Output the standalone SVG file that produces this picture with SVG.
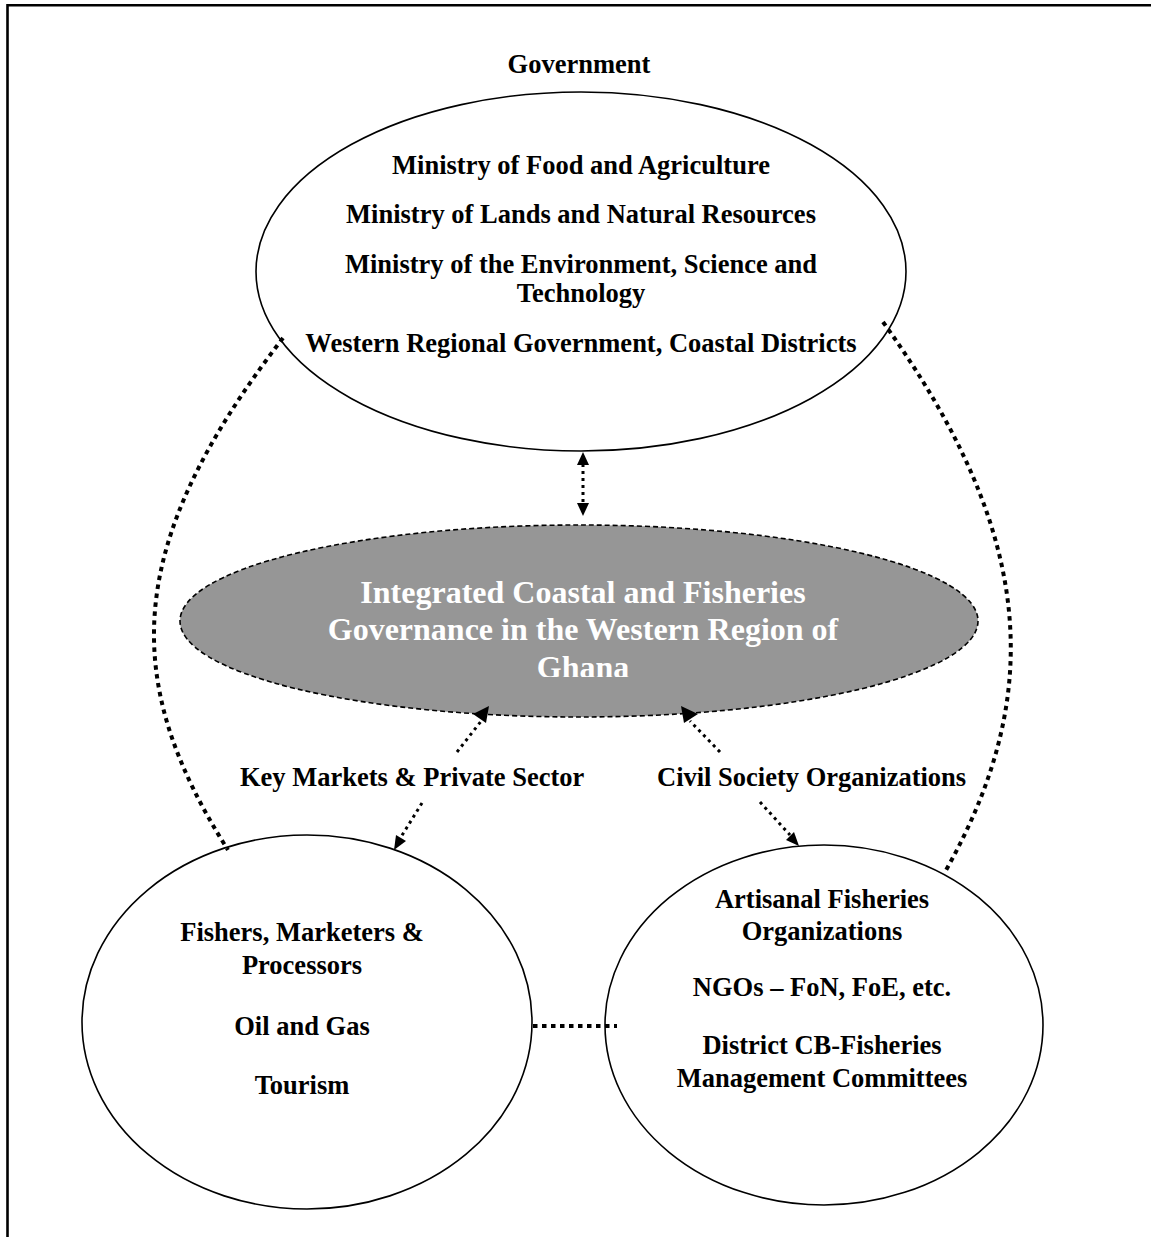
<svg xmlns="http://www.w3.org/2000/svg" width="1151" height="1237" viewBox="0 0 1151 1237">
<defs>
<style>
.t{font-family:"Liberation Serif","Times New Roman",serif;font-weight:bold;font-size:26.5px;fill:#000;}
.c{text-anchor:middle;}
.w{font-size:32px;fill:#fff;}
.el{fill:#fff;stroke:#000;stroke-width:1.6;}
.big{fill:none;stroke:#000;stroke-width:4;stroke-dasharray:4.5 4.5;}
.sm{fill:none;stroke:#000;stroke-width:3;stroke-dasharray:3 4;}
.ah{fill:#000;stroke:none;}
</style>
<clipPath id="gclip"><rect x="150" y="520" width="850" height="157"/></clipPath>
</defs>
<rect width="1151" height="1237" fill="#fff"/>
<path d="M7.5,1240 V5.3 H1160" fill="none" stroke="#000" stroke-width="2.6"/>

<g id="government">
<text class="t c" x="579" y="73">Government</text>
<ellipse class="el" cx="581" cy="271.5" rx="325" ry="179.5"/>
<text class="t c" x="581" y="174">Ministry of Food and Agriculture</text>
<text class="t c" x="581" y="223">Ministry of Lands and Natural Resources</text>
<text class="t c" x="581" y="273">Ministry of the Environment, Science and</text>
<text class="t c" x="581" y="302">Technology</text>
<text class="t c" x="581" y="352">Western Regional Government, Coastal Districts</text>
</g>

<g id="integrated">
<ellipse cx="579" cy="621" rx="399" ry="96" fill="#969696" stroke="#000" stroke-width="1.6" stroke-dasharray="5 3"/>
<g clip-path="url(#gclip)">
<text class="t c w" x="583" y="603">Integrated Coastal and Fisheries</text>
<text class="t c w" x="583" y="640">Governance in the Western Region of</text>
<text class="t c w" x="583" y="678">Ghana</text>
</g>
</g>

<g id="labels">
<text class="t" x="240" y="786">Key Markets &amp; Private Sector</text>
<text class="t" x="657" y="786">Civil Society Organizations</text>
</g>

<g id="private">
<ellipse class="el" cx="307" cy="1022" rx="225" ry="187"/>
<text class="t c" x="302" y="941">Fishers, Marketers &amp;</text>
<text class="t c" x="302" y="974">Processors</text>
<text class="t c" x="302" y="1035">Oil and Gas</text>
<text class="t c" x="302" y="1094">Tourism</text>
</g>

<g id="civil">
<ellipse class="el" cx="824" cy="1025" rx="219" ry="180"/>
<text class="t c" x="822" y="908">Artisanal Fisheries</text>
<text class="t c" x="822" y="940">Organizations</text>
<text class="t c" x="822" y="996">NGOs – FoN, FoE, etc.</text>
<text class="t c" x="822" y="1054">District CB-Fisheries</text>
<text class="t c" x="822" y="1087">Management Committees</text>
</g>

<g id="connectors">
<path class="big" d="M283,338 C121,548 122,683 228,850"/>
<path class="big" d="M883,322 C1040,540 1042,700 945,872"/>
<path class="big" d="M533,1026 H617"/>
<path class="sm" d="M583,464 V504"/>
<polygon class="ah" points="583,452 577,465 589,465"/>
<polygon class="ah" points="583,516 577,503 589,503"/>
<path class="sm" d="M457,752 L482,720"/>
<polygon class="ah" points="473,714 489,706 486,723"/>
<path class="sm" d="M720,752 L690,721"/>
<polygon class="ah" points="698,714 681,706 684,723"/>
<path class="sm" d="M422,803 L401,837"/>
<polygon class="ah" points="394,850 406,841 396,835"/>
<path class="sm" d="M760,802 L790,835"/>
<polygon class="ah" points="799,846 794,832 786,840"/>
</g>
</svg>
